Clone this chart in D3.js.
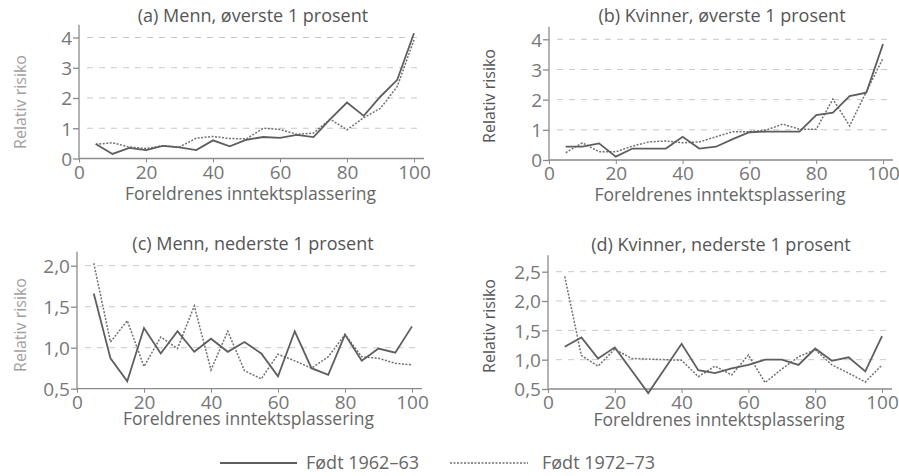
<!DOCTYPE html>
<html>
<head>
<meta charset="utf-8">
<script src="https://cdn.jsdelivr.net/npm/d3@7"></script>
<style>
html,body{margin:0;padding:0;background:#fff;}
svg{display:block;}
text{font-family:"Open Sans","DejaVu Sans",sans-serif;}
</style>
</head>
<body>
<svg id="chart" width="899" height="476"></svg>
<script>
// ---- data ----
const pct = [5,10,15,20,25,30,35,40,45,50,55,60,65,70,75,80,85,90,95,100];
const xTicks = [0,20,40,60,80,100];

const menTop6263   = [0.48,0.15,0.35,0.28,0.42,0.37,0.28,0.60,0.40,0.62,0.71,0.68,0.78,0.71,1.30,1.85,1.41,2.05,2.60,4.14];
const menTop7273   = [0.47,0.52,0.38,0.33,0.42,0.38,0.67,0.73,0.66,0.65,1.00,0.96,0.80,0.84,1.30,0.95,1.35,1.66,2.38,3.92];
const womenTop6263 = [0.44,0.44,0.55,0.11,0.38,0.38,0.38,0.77,0.38,0.44,0.69,0.92,0.94,0.94,0.94,1.49,1.57,2.12,2.23,3.84];
const womenTop7273 = [0.24,0.57,0.27,0.27,0.46,0.60,0.63,0.57,0.60,0.77,0.94,0.94,0.99,1.19,1.02,1.02,2.02,1.13,2.26,3.37];
const menBot6263   = [1.66,0.87,0.59,1.24,0.93,1.20,0.95,1.11,0.95,1.07,0.93,0.65,1.20,0.75,0.67,1.16,0.84,0.99,0.94,1.26];
const menBot7273   = [2.03,1.07,1.33,0.77,1.13,0.99,1.51,0.73,1.20,0.72,0.62,0.92,0.84,0.75,0.89,1.16,0.89,0.87,0.81,0.79];
const womenBot6263 = [1.22,1.38,1.02,1.21,0.82,0.43,0.85,1.27,0.82,0.77,0.85,0.91,1.00,1.00,0.91,1.19,0.98,1.04,0.80,1.40];
const womenBot7273 = [2.42,1.07,0.89,1.18,1.02,1.01,1.00,0.99,0.71,0.89,0.74,1.08,0.61,0.84,1.05,1.17,0.91,0.77,0.62,0.91];

const topTicks = [0,1,2,3,4];
const menBotTicks = [0.5,1.0,1.5,2.0];
const womenBotTicks = [0.5,1.0,1.5,2.0,2.5];

const titles = ["(a) Menn, øverste 1 prosent","(b) Kvinner, øverste 1 prosent","(c) Menn, nederste 1 prosent","(d) Kvinner, nederste 1 prosent"];
const xTitle = "Foreldrenes inntektsplassering";
const yTitle = "Relativ risiko";
const legendLabels = ["Født 1962–63","Født 1972–73"];

// ---- layout ----
const panels = [
  {title:titles[0], s1:menTop6263, s2:menTop7273, ticks:topTicks, dec:false,
   x0:79, x1:414, xEnd:424, yv:[0,4], yp:[158.5,37.5], yTop:4.42, titleX:253, titleY:22, xtY:200, ytX:20, ytY:102, ytColor:"#a0a0a0"},
  {title:titles[1], s1:womenTop6263, s2:womenTop7273, ticks:topTicks, dec:false,
   x0:549, x1:883, xEnd:893, yv:[0,4], yp:[160,39.3], yTop:4.42, titleX:722, titleY:22, xtY:201, ytX:489, ytY:96, ytColor:"#555"},
  {title:titles[2], s1:menBot6263, s2:menBot7273, ticks:menBotTicks, dec:true,
   x0:77, x1:412, xEnd:422, yv:[0.5,2.0], yp:[388.7,265.7], yTop:2.17, titleX:253, titleY:250, xtY:425, ytX:20, ytY:325, ytColor:"#a0a0a0"},
  {title:titles[3], s1:womenBot6263, s2:womenBot7273, ticks:womenBotTicks, dec:true,
   x0:548, x1:882, xEnd:892, yv:[0.5,2.5], yp:[389,271.7], yTop:2.78, titleX:721, titleY:251, xtY:426, ytX:489, ytY:326, ytColor:"#555"}
];

const svg = d3.select("#chart");
const commaFmt = d3.formatLocale({decimal:",", thousands:".", grouping:[3], currency:["","kr"]}).format(".1f");

panels.forEach(p => {
  const x = d3.scaleLinear().domain([0,100]).range([p.x0,p.x1]);
  const y = d3.scaleLinear().domain(p.yv).range(p.yp);
  const yBase = p.yv[0];
  const g = svg.append("g");

  // gridlines
  g.selectAll("line.grid").data(p.ticks.filter(t => t !== yBase)).join("line")
    .attr("x1", p.x0 + 8).attr("x2", p.xEnd - 2)
    .attr("y1", d => y(d)).attr("y2", d => y(d))
    .attr("stroke", "#c8c8c8").attr("stroke-width", 1).attr("stroke-dasharray", "6,6");

  // y axis
  const yAxis = d3.axisLeft(y).tickValues(p.ticks).tickSize(6).tickPadding(1)
    .tickFormat(p.dec ? commaFmt : d3.format("d"));
  const ya = g.append("g").attr("transform", `translate(${p.x0},0)`).call(yAxis);
  ya.select(".domain").remove();
  ya.append("line").attr("x1",0).attr("x2",0).attr("y1", y(yBase)).attr("y2", y(p.yTop))
    .attr("stroke","#8a8a8a").attr("stroke-width",1.3);
  ya.selectAll(".tick line").attr("stroke","#8a8a8a").attr("stroke-width",1.3);
  ya.selectAll(".tick text").attr("fill","#777").attr("font-size",19).attr("dy","0.36em");

  // x axis
  const xAxis = d3.axisBottom(x).tickValues(xTicks).tickSize(4).tickPadding(3).tickFormat(d3.format("d"));
  const xa = g.append("g").attr("transform", `translate(0,${y(yBase)})`).call(xAxis);
  xa.select(".domain").remove();
  xa.append("line").attr("x1", p.x0).attr("x2", p.xEnd).attr("y1",0).attr("y2",0)
    .attr("stroke","#8a8a8a").attr("stroke-width",1.3);
  xa.selectAll(".tick line").attr("stroke","#8a8a8a").attr("stroke-width",1);
  xa.selectAll(".tick text").attr("fill","#777").attr("font-size",19);

  // lines
  const line = d3.line().x((d,i) => x(pct[i])).y(d => y(d));
  g.append("path").datum(p.s2).attr("d", line).attr("fill","none")
    .attr("stroke","#707070").attr("stroke-width",1.5).attr("stroke-dasharray","2,1.5");
  g.append("path").datum(p.s1).attr("d", line).attr("fill","none")
    .attr("stroke","#5e5e5e").attr("stroke-width",1.8).attr("stroke-linejoin","miter");

  // titles
  g.append("text").attr("x", p.titleX).attr("y", p.titleY).attr("text-anchor","middle")
    .attr("font-size",18).attr("fill","#555").text(p.title);
  g.append("text").attr("x", (p.x0+p.x1)/2 + 4).attr("y", p.xtY).attr("text-anchor","middle")
    .attr("font-size",17.5).attr("fill","#666").text(xTitle);
  g.append("text").attr("transform", `translate(${p.ytX},${p.ytY}) rotate(-90)`)
    .attr("text-anchor","middle").attr("dy","0.35em")
    .attr("font-size",16).attr("fill",p.ytColor).text(yTitle);
});

// legend
const lg = svg.append("g");
lg.append("line").attr("x1",220).attr("x2",297).attr("y1",463).attr("y2",463)
  .attr("stroke","#5e5e5e").attr("stroke-width",1.8);
lg.append("text").attr("x",306).attr("y",469).attr("font-size",18).attr("fill","#666").text(legendLabels[0]);
lg.append("line").attr("x1",450).attr("x2",528).attr("y1",463).attr("y2",463)
  .attr("stroke","#707070").attr("stroke-width",1.5).attr("stroke-dasharray","2,1.5");
lg.append("text").attr("x",542).attr("y",469).attr("font-size",18).attr("fill","#666").text(legendLabels[1]);
</script>
</body>
</html>
